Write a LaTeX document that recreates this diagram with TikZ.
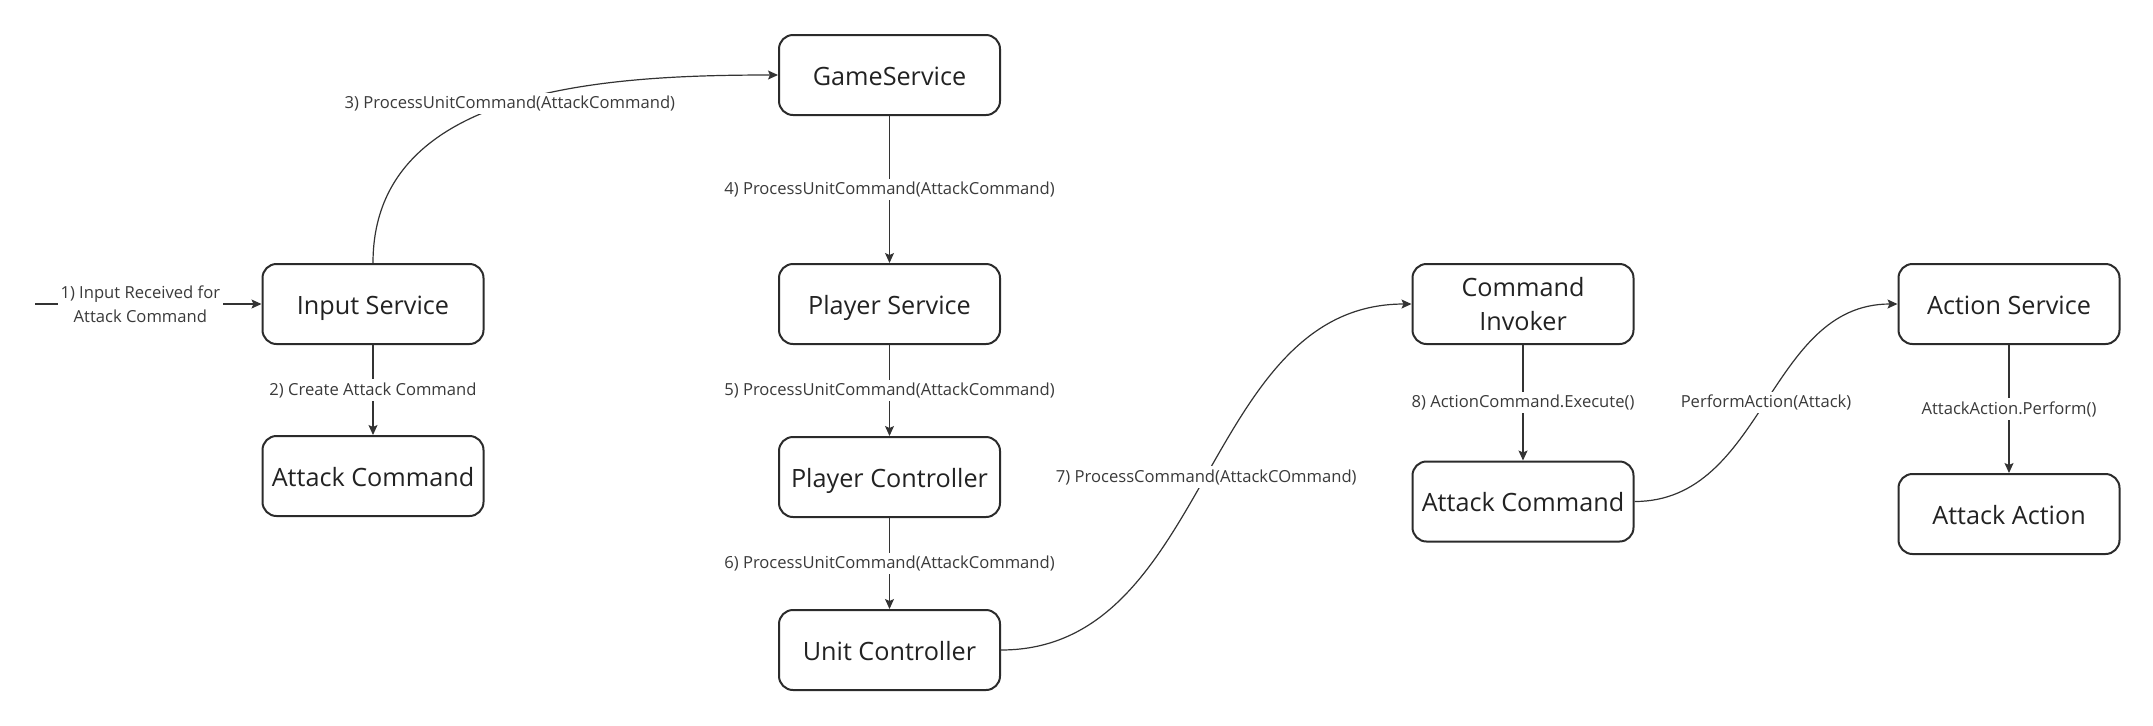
\documentclass[tikz,border=0pt]{standalone}
\usepackage{fontspec}
\setmainfont{Open Sans}
\usetikzlibrary{arrows.meta}
\definecolor{boxc}{HTML}{2B2B2B}
\definecolor{linec}{HTML}{333333}
\definecolor{txtc}{HTML}{222222}
\definecolor{lblc}{HTML}{3A3A3A}
\begin{document}
\begin{tikzpicture}[x=0.5pt,y=-0.5pt,
  box/.style={draw=boxc, line width=1pt, rounded corners=7pt, minimum width=110.5pt, minimum height=40pt, inner sep=0pt, align=center, font=\fontsize{12.6}{17}\selectfont, text=txtc},
  onebox/.style={box, text height=1.0em, text depth=0pt},
  conn/.style={draw=linec, line width=0.6pt, -{Stealth[length=5pt,width=4.5pt,inset=1pt]}},
  lbl/.style={fill=white, inner sep=1.5pt, font=\fontsize{8.3}{11.75}\selectfont, text=lblc, align=center}]
\useasboundingbox (0,0) rectangle (2153,725);

\node[onebox] (in)  at (373,304)    {Input Service};
\node[onebox] (ac1) at (373,476)    {Attack Command};
\node[onebox] (gs)  at (889.5,75)   {GameService};
\node[onebox] (ps)  at (889.5,304)  {Player Service};
\node[onebox] (pc)  at (889.5,477)  {Player Controller};
\node[onebox] (uc)  at (889.5,650)  {Unit Controller};
\node[box]    (ci)  at (1523,304)   {Command\\Invoker};
\node[onebox] (ac2) at (1523,501.5) {Attack Command};
\node[onebox] (as)  at (2009,304)   {Action Service};
\node[onebox] (aa)  at (2009,514)   {Attack Action};

\coordinate (start) at (35,304);

\draw[conn] (start) -- node[lbl,pos=0.465]{1) Input Received for\\Attack Command} (in.west);
\draw[conn] (in.south) -- node[lbl]{2) Create Attack Command} (ac1.north);
\draw[conn] (in.north) .. controls +(0,-175) and +(-175,0) .. node[lbl]{3) ProcessUnitCommand(AttackCommand)} (gs.west);
\draw[conn] (gs.south) -- node[lbl]{4) ProcessUnitCommand(AttackCommand)} (ps.north);
\draw[conn] (ps.south) -- node[lbl]{5) ProcessUnitCommand(AttackCommand)} (pc.north);
\draw[conn] (pc.south) -- node[lbl]{6) ProcessUnitCommand(AttackCommand)} (uc.north);
\draw[conn] (uc.east) .. controls +(210,0) and +(-210,0) .. node[lbl]{7) ProcessCommand(AttackCOmmand)} (ci.west);
\draw[conn] (ci.south) -- node[lbl]{8) ActionCommand.Execute()} (ac2.north);
\draw[conn] (ac2.east) .. controls +(130,0) and +(-130,0) .. node[lbl]{PerformAction(Attack)} (as.west);
\draw[conn] (as.south) -- node[lbl]{AttackAction.Perform()} (aa.north);
\end{tikzpicture}
\end{document}
